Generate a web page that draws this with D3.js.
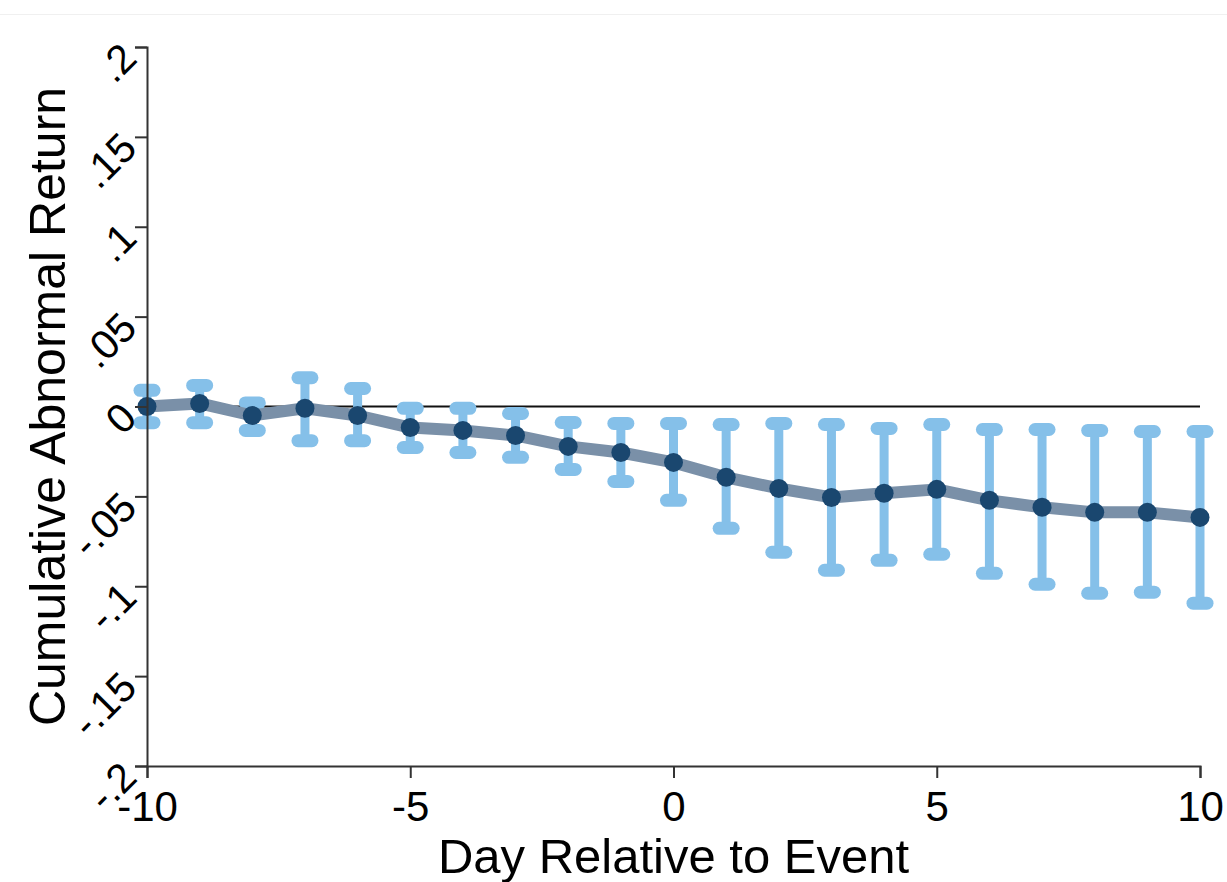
<!DOCTYPE html>
<html>
<head>
<meta charset="utf-8">
<script src="https://cdn.jsdelivr.net/npm/d3@7"></script>
<style>
  body { margin: 0; background: #fff; }
  text { font-family: "Liberation Sans", Arial, sans-serif; fill: #000; }
</style>
</head>
<body>
<svg id="canvas"></svg>
<script>
let days = [-10,-9,-8,-7,-6,-5,-4,-3,-2,-1,0,1,2,3,4,5,6,7,8,9,10];
let car = [0.000,0.0017,-0.005,-0.001,-0.005,-0.0117,-0.0133,-0.0161,-0.0222,-0.0256,-0.0311,
           -0.0394,-0.0456,-0.0506,-0.0483,-0.0461,-0.0522,-0.0561,-0.0589,-0.0589,-0.0617];
let ciHigh = [0.009,0.0117,0.002,0.016,0.010,-0.001,-0.001,-0.0039,-0.0089,-0.0094,-0.0094,
              -0.010,-0.0094,-0.010,-0.0122,-0.010,-0.0128,-0.0128,-0.0133,-0.0139,-0.0139];
let ciLow = [-0.009,-0.009,-0.0133,-0.019,-0.019,-0.0228,-0.0256,-0.0283,-0.035,-0.0417,-0.0522,
             -0.0678,-0.0811,-0.0911,-0.0856,-0.0822,-0.0928,-0.0989,-0.1039,-0.1033,-0.1094];
let xTicks = [-10,-5,0,5,10];
let yTicks = [0.2,0.15,0.1,0.05,0,-0.05,-0.1,-0.15,-0.2];
let yTickLabels = [".2",".15",".1",".05","0","-.05","-.1","-.15","-.2"];

let width = 1227;
let height = 882;

let canvas = d3.select("#canvas");
canvas.attr("width",width);
canvas.attr("height",height);

let xScale = d3.scaleLinear().domain([-10,10]).range([147,1200]);
let yScale = d3.scaleLinear().domain([-0.2,0.2]).range([766,47]);

let values = days.map((d,i)=>({day:d, car:car[i], hi:ciHigh[i], lo:ciLow[i]}));

// faint frame line at top
canvas.append("line")
      .attr("x1",0).attr("x2",width)
      .attr("y1",14.5).attr("y2",14.5)
      .attr("stroke","#f0f0f0")
      .attr("stroke-width",1);

// zero line
canvas.append("line")
      .attr("x1",xScale(-10)).attr("x2",xScale(10))
      .attr("y1",yScale(0)).attr("y2",yScale(0))
      .attr("stroke","#111")
      .attr("stroke-width",2);

// error bars
let bars = canvas.append("g").attr("stroke","#85c0e9").attr("stroke-width",9).attr("stroke-linecap","round");
bars.selectAll(".stem")
    .data(values)
    .enter()
    .append("line")
    .attr("x1",d=>xScale(d.day)).attr("x2",d=>xScale(d.day))
    .attr("y1",d=>yScale(d.hi)).attr("y2",d=>yScale(d.lo));
bars.selectAll(".capTop")
    .data(values)
    .enter()
    .append("line")
    .attr("x1",d=>xScale(d.day)-7).attr("x2",d=>xScale(d.day)+7)
    .attr("y1",d=>yScale(d.hi)).attr("y2",d=>yScale(d.hi))
    .attr("stroke-width",13);
bars.selectAll(".capBottom")
    .data(values)
    .enter()
    .append("line")
    .attr("x1",d=>xScale(d.day)-7).attr("x2",d=>xScale(d.day)+7)
    .attr("y1",d=>yScale(d.lo)).attr("y2",d=>yScale(d.lo))
    .attr("stroke-width",13);

// connecting line
let line = d3.line().x(d=>xScale(d.day)).y(d=>yScale(d.car));
canvas.append("path")
      .datum(values)
      .attr("d",line)
      .attr("fill","none")
      .attr("stroke","#7a90a8")
      .attr("stroke-width",12)
      .attr("stroke-linejoin","round");

// markers
canvas.selectAll(".pt")
      .data(values)
      .enter()
      .append("circle")
      .attr("cx",d=>xScale(d.day))
      .attr("cy",d=>yScale(d.car))
      .attr("r",9.5)
      .attr("fill","#1a476f");

// axes
let xAxis = d3.axisBottom(xScale).tickValues(xTicks).tickSize(12).tickPadding(13).tickFormat(d=>String(d));
let gx = canvas.append("g")
      .attr("transform","translate(0,"+yScale(-0.2)+")")
      .call(xAxis);
gx.select(".domain").attr("stroke","#333").attr("stroke-width",2);
gx.selectAll(".tick line").attr("stroke","#333").attr("stroke-width",2);
gx.selectAll(".tick text").attr("font-size",42).attr("fill","#000");

let yAxis = d3.axisLeft(yScale).tickValues(yTicks).tickSize(12).tickFormat((d,i)=>yTickLabels[i]);
let gy = canvas.append("g")
      .attr("transform","translate("+xScale(-10)+",0)")
      .call(yAxis);
gy.select(".domain").attr("stroke","#333").attr("stroke-width",2);
gy.selectAll(".tick line").attr("stroke","#333").attr("stroke-width",2);
gy.selectAll(".tick text")
  .attr("font-size",41)
  .attr("fill","#000")
  .attr("text-anchor","end")
  .attr("x",null).attr("dy",null)
  .attr("transform","translate(-8,13) rotate(-45)");

// titles
canvas.append("text")
      .attr("x",xScale(0))
      .attr("y",873)
      .attr("text-anchor","middle")
      .attr("font-size",49)
      .text("Day Relative to Event");

canvas.append("text")
      .attr("transform","translate(65,"+((yScale(0.2)+yScale(-0.2))/2)+") rotate(-90)")
      .attr("text-anchor","middle")
      .attr("font-size",50)
      .text("Cumulative Abnormal Return");
</script>
</body>
</html>
